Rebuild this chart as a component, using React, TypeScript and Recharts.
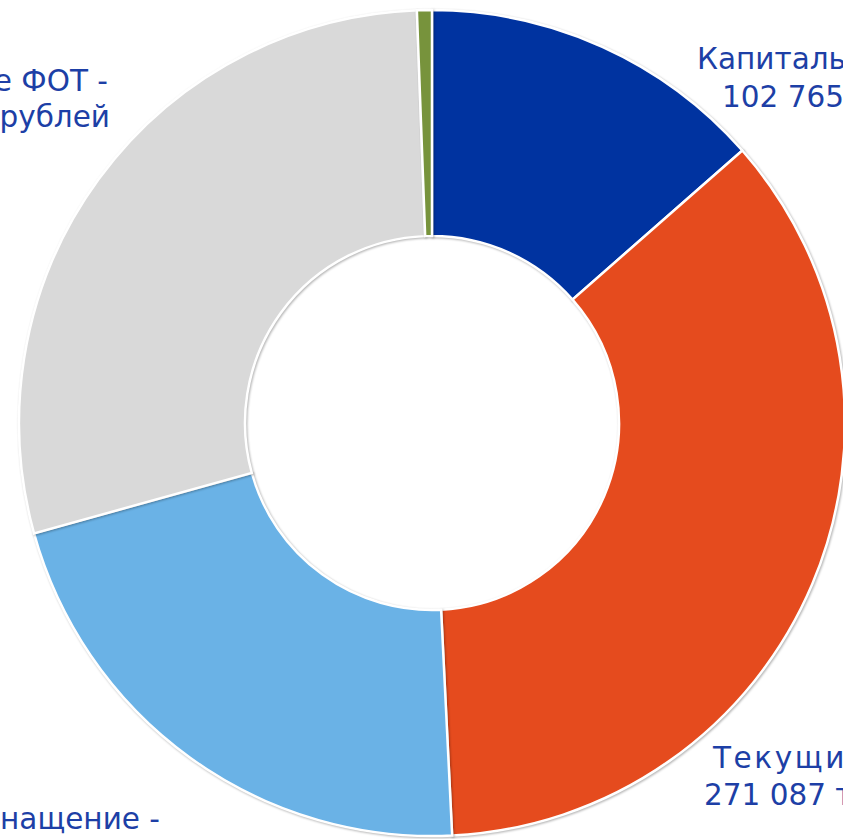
import React from 'react';
import { PieChart, Pie, Cell } from 'recharts';

const categories = [
  'Капитальные расходы',
  'Текущие расходы',
  'Материально-техническое оснащение',
  'Стимулирующие ФОТ',
  'Прочие',
];
const values = [102765, 271087, 163085, 218150, 4430];
const colors = ['#0033A0', '#E54B1E', '#6AB2E6', '#D9D9D9', '#77933C'];
const labelLines = [
  ['Капитальные расходы -', '102 765 тыс. рублей'],
  ['Текущие расходы -', '271 087 тыс. рублей'],
  ['Материально-техническое оснащение -', '163 085 тыс. рублей'],
  ['Стимулирующие ФОТ -', '218 150 тыс. рублей'],
  [],
];

const data = categories.map((name, i) => ({ name, value: values[i] }));

// layout of the label text blocks (offsets from the pie centre)
const labelLayout = [
  [{ dx: 265, dy: -354, anchor: 'start', ls: 0 }, { dx: 290, dy: -316, anchor: 'start', ls: 0 }],
  [{ dx: 281, dy: 345, anchor: 'start', ls: 2.6 }, { dx: 272, dy: 382, anchor: 'start', ls: 0 }],
  [{ dx: -272, dy: 406, anchor: 'end', ls: 0 }, { dx: -272, dy: 443, anchor: 'end', ls: 0 }],
  [{ dx: -324, dy: -332, anchor: 'end', ls: 0 }, { dx: -322, dy: -296, anchor: 'end', ls: 0 }],
  [],
];

const renderLabel = (props: any) => {
  const { cx, cy, index } = props;
  const lines = labelLines[index];
  const lay = labelLayout[index];
  if (!lines || lines.length === 0) return null;
  return (
    <g>
      {lines.map((t: string, k: number) => (
        <text
          key={k}
          x={cx + lay[k].dx}
          y={cy + lay[k].dy}
          textAnchor={lay[k].anchor}
          fill="#1D3FA6"
          fontSize={29.5}
          letterSpacing={lay[k].ls}
          fontFamily="DejaVu Sans, sans-serif"
        >
          {t}
        </text>
      ))}
    </g>
  );
};

export default function App() {
  return (
    <div style={{ position: 'absolute', left: 0, top: 0, width: 843, height: 839, overflow: 'hidden', background: '#fff' }}>
      <PieChart width={843} height={839} margin={{ top: 0, right: 0, bottom: 0, left: 0 }}>
        <Pie
          data={data}
          dataKey="value"
          nameKey="name"
          cx={432}
          cy={423}
          innerRadius={187}
          outerRadius={413}
          startAngle={90}
          endAngle={-270}
          stroke="#ffffff"
          strokeWidth={2.5}
          label={renderLabel}
          labelLine={false}
          isAnimationActive={false}
        >
          {data.map((d, i) => (
            <Cell
              key={d.name}
              fill={colors[i]}
              style={{ filter: 'drop-shadow(1.5px 1.5px 1.2px rgba(0,0,0,0.3))' }}
            />
          ))}
        </Pie>
      </PieChart>
    </div>
  );
}
